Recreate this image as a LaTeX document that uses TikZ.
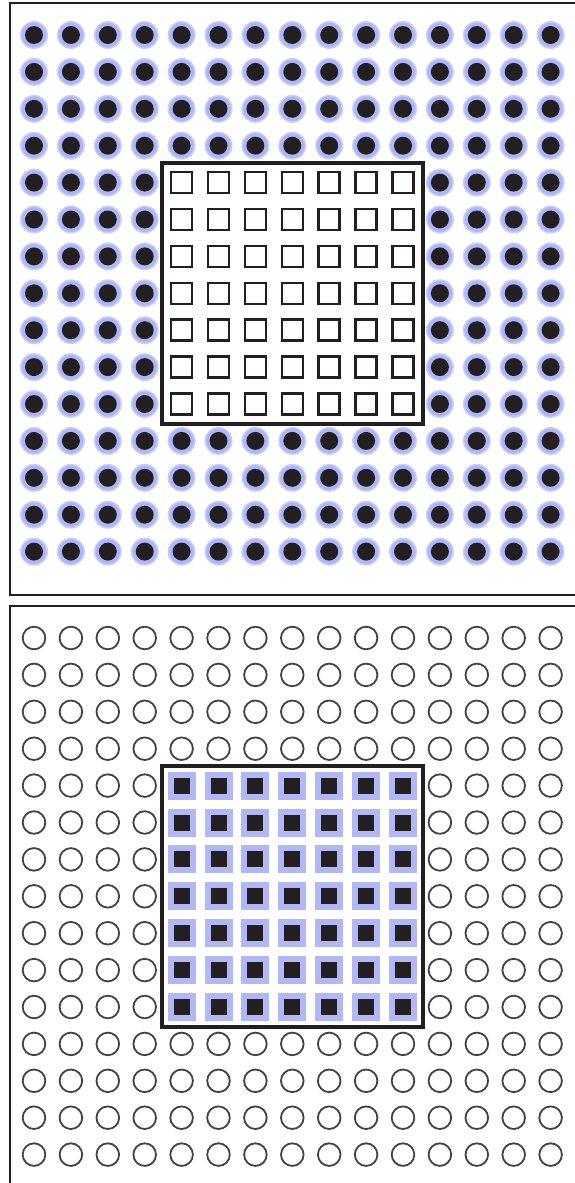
\documentclass[tikz,border=0pt]{standalone}
\usepackage{tikz}
\definecolor{halo}{HTML}{AEB6FA}
\definecolor{haloedge}{HTML}{C9CFFC}
\definecolor{ink}{HTML}{231F20}
\definecolor{sqblue}{HTML}{B0B8F8}
\tikzset{
  frame/.style={draw=ink, line width=2pt},
  innerbox/.style={draw=ink, line width=4pt, fill=white},
  dotdark/.style={fill=ink},
  dothalo/.style={fill=halo},
  ring/.style={draw=ink!85, line width=1.8pt, fill=white},
  hollowsq/.style={draw=ink, line width=2.5pt, fill=white},
  bluesq/.style={fill=sqblue},
  darksq/.style={fill=ink}
}
\begin{document}
\begin{tikzpicture}[x=1pt,y=-1pt]
\useasboundingbox (0,0) rectangle (575,1183);
\clip (0,0) rectangle (575,1183);
\fill[white] (0,0) rectangle (575,1183);
% ---------- top panel ----------
\draw[frame] (10,3) rectangle (600,595);
\foreach \i in {0,...,14}{
  \foreach \j in {0,...,14}{
    \pgfmathsetmacro{\cx}{34+\i*36.9}
    \pgfmathsetmacro{\cy}{35+\j*36.9}
    \fill[haloedge] (\cx,\cy) circle (14);
    \fill[dothalo] (\cx,\cy) circle (12.5);
    \fill[dotdark] (\cx,\cy) circle (9);
  }
}
\draw[innerbox] (161.6,162.6) rectangle (423,424);
\foreach \i in {4,...,10}{
  \foreach \j in {4,...,10}{
    \pgfmathsetmacro{\cx}{34+\i*36.9}
    \pgfmathsetmacro{\cy}{35+\j*36.9}
    \draw[hollowsq] (\cx-10.5,\cy-10.5) rectangle (\cx+10.5,\cy+10.5);
  }
}
% ---------- bottom panel ----------
\draw[frame] (10,606) rectangle (600,1200);
\foreach \i in {0,...,14}{
  \foreach \j in {0,...,14}{
    \pgfmathsetmacro{\cx}{34+\i*36.9}
    \pgfmathsetmacro{\cy}{638+\j*36.9}
    \draw[ring] (\cx,\cy) circle (11.3);
  }
}
\draw[innerbox] (161.6,765.6) rectangle (423,1027);
\foreach \i in {4,...,10}{
  \foreach \j in {4,...,10}{
    \pgfmathsetmacro{\cx}{34+\i*36.9}
    \pgfmathsetmacro{\cy}{638+\j*36.9}
    \fill[bluesq] (\cx-14,\cy-14) rectangle (\cx+14,\cy+14);
    \fill[darksq] (\cx-8,\cy-8) rectangle (\cx+8,\cy+8);
  }
}
\end{tikzpicture}
\end{document}
